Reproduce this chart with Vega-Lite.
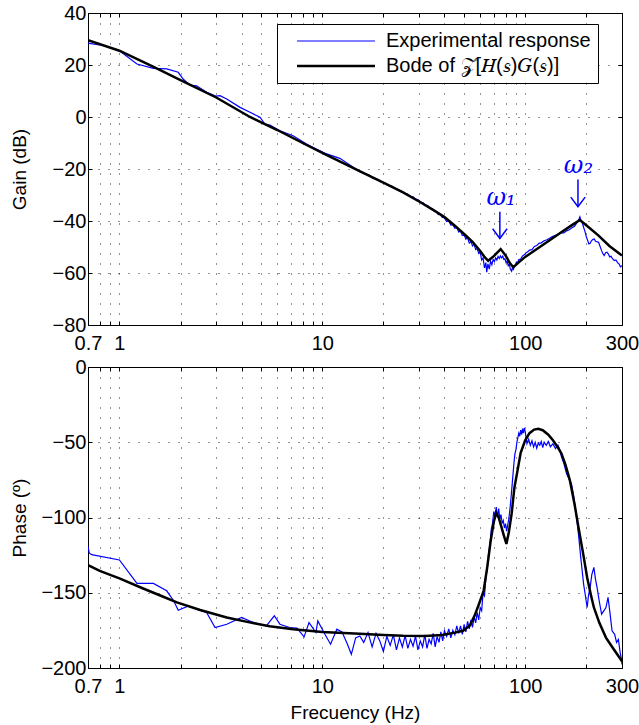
{
  "$schema": "https://vega.github.io/schema/vega-lite/v6.json",
  "background": "white",
  "padding": {"left": 10, "top": 3, "right": 2, "bottom": 2},
  "spacing": 4,
  "config": {
    "font": "Liberation Sans",
    "view": {"stroke": null},
    "axis": {"labelFont": "Liberation Sans", "labelFontSize": 20, "labelColor": "black", "titleFont": "Liberation Sans", "titleFontSize": 19, "titleFontWeight": "normal", "titleColor": "black", "domain": true, "domainColor": "black", "domainWidth": 1, "tickColor": "black", "tickSize": -4, "gridColor": "black", "gridDash": [1, 9], "gridOpacity": 0.85, "labelPadding": 12},
    "legend": {"labelFont": "Liberation Sans", "labelFontSize": 20, "labelColor": "black", "symbolType": "M0.375,0H10.125", "symbolSize": 256, "symbolFillColor": "transparent", "strokeColor": "black", "fillColor": "white", "padding": 7, "rowPadding": 5, "labelOffset": 82, "labelLimit": 500}
  },
  "datasets": {
    "gainExp": [
      {"f":0.7,"v":28.6},{"f":0.71,"v":28.3},{"f":0.83,"v":27.5},{"f":1.0,"v":25.5},{"f":1.22,"v":20.4},{"f":1.47,"v":18.7},{"f":1.71,"v":18.5},{"f":1.95,"v":17.2},{"f":2.06,"v":14.6},{"f":2.22,"v":12.3},{"f":2.4,"v":12.0},{"f":2.69,"v":9.5},{"f":3.0,"v":8.0},{"f":3.13,"v":8.2},{"f":3.38,"v":6.9},{"f":3.93,"v":3.7},{"f":4.4,"v":1.8},{"f":4.93,"v":-0.1},{"f":5.21,"v":-2.7},{"f":5.52,"v":-3.1},{"f":6.18,"v":-5.3},{"f":7.18,"v":-7.2},{"f":8.36,"v":-10.4},{"f":9.02,"v":-11.7},{"f":10.5,"v":-14.2},{"f":12.2,"v":-15.9},{"f":14.2,"v":-19.3},{"f":15.3,"v":-21.0},
      {"f":16.2,"v":-21.8},{"f":17.0,"v":-22.3},{"f":17.8,"v":-23.6},{"f":18.6,"v":-23.9},{"f":19.4,"v":-24.9},{"f":20.3,"v":-25.3},{"f":21.1,"v":-26.3},{"f":22.0,"v":-26.6},{"f":22.9,"v":-27.6},{"f":23.7,"v":-27.9},{"f":24.6,"v":-28.7},{"f":25.4,"v":-29.3},{"f":26.3,"v":-29.6},{"f":27.1,"v":-30.5},{"f":28.0,"v":-30.7},{"f":28.8,"v":-31.6},{"f":29.7,"v":-31.8},{"f":30.5,"v":-32.7},{"f":31.4,"v":-33.0},{"f":32.2,"v":-33.9},{"f":33.1,"v":-34.1},{"f":33.9,"v":-35.2},{"f":34.8,"v":-35.4},{"f":35.6,"v":-36.3},{"f":36.5,"v":-36.5},{"f":37.3,"v":-37.5},{"f":38.2,"v":-37.4},{"f":39.0,"v":-38.6},{"f":39.9,"v":-38.7},
      {"f":41,"v":-40.2},{"f":42,"v":-40.0},{"f":43,"v":-41.6},{"f":44,"v":-41.4},{"f":45,"v":-42.8},{"f":46,"v":-42.5},{"f":47,"v":-44.2},{"f":48,"v":-43.9},{"f":49,"v":-45.6},{"f":50,"v":-45.3},{"f":51,"v":-47.0},{"f":52,"v":-46.4},{"f":53,"v":-48.5},{"f":54,"v":-47.8},{"f":55,"v":-49.6},{"f":56,"v":-49.0},{"f":57,"v":-51.0},{"f":58,"v":-50.6},{"f":59,"v":-52.5},{"f":60,"v":-52.0},{"f":61,"v":-55.0},{"f":62,"v":-54.2},{"f":63,"v":-58.0},{"f":64,"v":-56.0},{"f":64.6,"v":-59.7},{"f":65.5,"v":-56.5},{"f":66.5,"v":-58.5},{"f":67.5,"v":-55.5},{"f":68.5,"v":-56.8},{"f":69.5,"v":-54.8},{"f":70.5,"v":-55.6},{"f":71.5,"v":-54.2},{"f":72.5,"v":-55.0},{"f":73.5,"v":-53.6},{"f":74.5,"v":-54.4},{"f":75.5,"v":-53.4},{"f":76.5,"v":-54.2},{"f":77.5,"v":-53.5},{"f":78.5,"v":-54.8},{"f":79.5,"v":-54.6},{"f":80.5,"v":-56.0},{"f":81.5,"v":-55.4},{"f":82.5,"v":-57.2},{"f":83.5,"v":-56.6},{"f":84.5,"v":-58.6},{"f":85.7,"v":-59.3},{"f":86.5,"v":-58.0},{"f":87.5,"v":-58.6},{"f":88.5,"v":-57.2},{"f":89.5,"v":-57.0},{"f":90.5,"v":-55.8},{"f":91.5,"v":-56.2},{"f":93,"v":-54.8},{"f":95,"v":-54.6},{"f":97,"v":-53.4},{"f":99,"v":-53.0},{"f":101,"v":-52.2},{"f":103,"v":-51.8},{"f":105,"v":-51.2},{"f":108,"v":-51.0},{"f":111,"v":-49.8},{"f":114,"v":-49.4},{"f":117,"v":-48.6},{"f":120,"v":-48.4},{"f":124,"v":-47.6},{"f":128,"v":-47.2},{"f":132,"v":-46.6},{"f":136,"v":-46.0},{"f":140,"v":-45.6},{"f":145,"v":-45.2},{"f":150,"v":-44.6},{"f":155,"v":-44.6},{"f":160,"v":-43.8},{"f":165,"v":-43.4},{"f":170,"v":-42.6},{"f":175,"v":-42.0},{"f":180,"v":-40.6},{"f":184,"v":-39.4},{"f":186,"v":-38.4},{"f":188,"v":-39.6},{"f":191,"v":-40.6},{"f":194,"v":-42.4},{"f":197,"v":-44.0},{"f":200,"v":-46.0},{"f":203,"v":-47.4},{"f":206,"v":-48.8},{"f":209,"v":-48.6},{"f":212,"v":-47.6},{"f":216,"v":-47.0},{"f":219,"v":-46.9},{"f":222,"v":-47.8},{"f":226,"v":-48.0},{"f":230,"v":-48.2},{"f":234,"v":-49.8},{"f":238,"v":-51.4},{"f":241,"v":-52.4},{"f":245,"v":-53.3},{"f":249,"v":-52.2},{"f":253,"v":-52.0},{"f":257,"v":-52.7},{"f":261,"v":-53.8},{"f":265,"v":-53.6},{"f":270,"v":-54.6},{"f":275,"v":-55.2},{"f":280,"v":-55.0},{"f":285,"v":-56.0},{"f":290,"v":-56.5},{"f":295,"v":-57.6},{"f":300,"v":-57.2}
    ],
    "gainBode": [
      {"f":0.7,"v":29.5},{"f":1.0,"v":25.5},{"f":1.5,"v":19.0},{"f":2,"v":14.2},{"f":3,"v":7.5},{"f":4.4,"v":0},{"f":6,"v":-5.0},{"f":8,"v":-10.0},{"f":10,"v":-13.8},{"f":15,"v":-20.5},{"f":20,"v":-25.2},{"f":25,"v":-29.0},{"f":30,"v":-32.5},{"f":35,"v":-35.6},{"f":40,"v":-38.5},{"f":45,"v":-41.8},{"f":50,"v":-45.0},{"f":55,"v":-48.0},{"f":60,"v":-51.5},{"f":63,"v":-53.8},{"f":65.7,"v":-55.3},{"f":70,"v":-53.5},{"f":75.7,"v":-50.8},{"f":80,"v":-53.2},{"f":84,"v":-56.2},{"f":87.4,"v":-57.8},{"f":92,"v":-56.2},{"f":100,"v":-53.8},{"f":120,"v":-49.6},{"f":150,"v":-44.4},{"f":170,"v":-41.6},{"f":186,"v":-39.6},{"f":200,"v":-41.6},{"f":230,"v":-45.6},{"f":260,"v":-49.6},{"f":300,"v":-53.3}
    ],
    "phaseExp": [
      {"f":0.7,"v":-119.3},{"f":0.71,"v":-123.5},{"f":0.73,"v":-124.7},{"f":1.0,"v":-128.2},{"f":1.22,"v":-143.8},{"f":1.47,"v":-143.8},{"f":1.71,"v":-148.7},{"f":1.85,"v":-155.3},{"f":1.95,"v":-161.6},{"f":2.19,"v":-158.7},{"f":2.4,"v":-160.9},{"f":2.69,"v":-163.1},{"f":2.96,"v":-173.1},{"f":3.38,"v":-170.9},{"f":4.0,"v":-166.4},{"f":4.57,"v":-169.8},{"f":5.3,"v":-172},{"f":5.8,"v":-165.3},{"f":6.18,"v":-170.9},{"f":6.9,"v":-173.1},{"f":7.5,"v":-173.5},{"f":8.13,"v":-179.3},{"f":8.6,"v":-169.8},{"f":9.3,"v":-176.4},{"f":9.5,"v":-168.7},{"f":10.3,"v":-177.6},{"f":10.98,"v":-184.2},{"f":11.8,"v":-174.2},{"f":12.5,"v":-176},{"f":13.3,"v":-184.2},{"f":13.9,"v":-190.9},{"f":14.6,"v":-180},{"f":15.3,"v":-178.7},{"f":16.0,"v":-183},{"f":16.8,"v":-176.5},{"f":17.6,"v":-186},{"f":18.4,"v":-177},{"f":19.2,"v":-182},{"f":20.0,"v":-189},{"f":20.8,"v":-179},{"f":21.6,"v":-185},{"f":22.4,"v":-178},{"f":23.2,"v":-188},{"f":24.0,"v":-180},{"f":24.8,"v":-186},{"f":25.6,"v":-178.5},{"f":26.4,"v":-187},{"f":27.2,"v":-181},{"f":28.0,"v":-185.5},{"f":28.8,"v":-179},{"f":29.6,"v":-188},{"f":30.4,"v":-182},{"f":31.2,"v":-186},{"f":32.0,"v":-178},{"f":32.8,"v":-187},{"f":33.6,"v":-181},{"f":34.4,"v":-184},{"f":35.2,"v":-177},{"f":36.0,"v":-186},{"f":36.8,"v":-179},{"f":37.6,"v":-183},{"f":38.4,"v":-176},{"f":39.2,"v":-182},{"f":40,"v":-175.3},{"f":41,"v":-179},{"f":42,"v":-174},{"f":43,"v":-180},{"f":44,"v":-175},{"f":45,"v":-178},{"f":46,"v":-172},{"f":47,"v":-177},{"f":48,"v":-172},{"f":49,"v":-177.6},{"f":50,"v":-171},{"f":51,"v":-176},{"f":52,"v":-169},{"f":53,"v":-174},{"f":54,"v":-168},{"f":55,"v":-173},{"f":56,"v":-166},{"f":57,"v":-170},{"f":58,"v":-163},{"f":59,"v":-168},{"f":60,"v":-160},{"f":61,"v":-162},{"f":62,"v":-150},{"f":63,"v":-152},{"f":64,"v":-140},{"f":65,"v":-134},{"f":66,"v":-124},{"f":67,"v":-118},{"f":68,"v":-108},{"f":69,"v":-104},{"f":70,"v":-96},{"f":71,"v":-99},{"f":72,"v":-93},{"f":73,"v":-100},{"f":74,"v":-94},{"f":75,"v":-101},{"f":76,"v":-98},{"f":77,"v":-104},{"f":78,"v":-102},{"f":79,"v":-107},{"f":80,"v":-104},{"f":81,"v":-109},{"f":82,"v":-105},{"f":83,"v":-101},{"f":84,"v":-95},{"f":85,"v":-88},{"f":86,"v":-80},{"f":87,"v":-72},{"f":88,"v":-64},{"f":89,"v":-57.6},{"f":90,"v":-55},{"f":91,"v":-50},{"f":92,"v":-47},{"f":93,"v":-44},{"f":94,"v":-46},{"f":95,"v":-42},{"f":96,"v":-45},{"f":97,"v":-41},{"f":98,"v":-44},{"f":99,"v":-40.5},{"f":100,"v":-43},{"f":102,"v":-50.9},{"f":104,"v":-48},{"f":106,"v":-52},{"f":108,"v":-49},{"f":110,"v":-53.1},{"f":112,"v":-50},{"f":114,"v":-54},{"f":116,"v":-50.5},{"f":118,"v":-52},{"f":120,"v":-49.5},{"f":122,"v":-53.5},{"f":124,"v":-50},{"f":127,"v":-52},{"f":130,"v":-49.5},{"f":133,"v":-53},{"f":137,"v":-51},{"f":141,"v":-54.2},{"f":145,"v":-52},{"f":148,"v":-55},{"f":151,"v":-59.8},{"f":155,"v":-64},{"f":160,"v":-70.9},{"f":164,"v":-74},{"f":169,"v":-77.6},{"f":173,"v":-85},{"f":178,"v":-97},{"f":183,"v":-110.9},{"f":188,"v":-127},{"f":194,"v":-144.2},{"f":198,"v":-152},{"f":202,"v":-159.8},{"f":205,"v":-152},{"f":209,"v":-146.4},{"f":213,"v":-138},{"f":218,"v":-133.1},{"f":222,"v":-141},{"f":226,"v":-146.4},{"f":232,"v":-156},{"f":238,"v":-164.2},{"f":244,"v":-162},{"f":250,"v":-159.8},{"f":256,"v":-153.1},{"f":261,"v":-162},{"f":268,"v":-175.3},{"f":276,"v":-177.6},{"f":282,"v":-183},{"f":288,"v":-181},{"f":294,"v":-190},{"f":298,"v":-194},{"f":300,"v":-197.6}
    ],
    "phaseBode": [
      {"f":0.7,"v":-131.6},{"f":0.8,"v":-135.5},{"f":1.0,"v":-140.5},{"f":1.3,"v":-147},{"f":1.6,"v":-152},{"f":1.92,"v":-156.4},{"f":2.5,"v":-161.5},{"f":3.38,"v":-166.4},{"f":4.5,"v":-170},{"f":5.5,"v":-172.2},{"f":7.18,"v":-174.2},{"f":10,"v":-176},{"f":15.3,"v":-177.2},{"f":20,"v":-178},{"f":25,"v":-178.5},{"f":32,"v":-178.7},{"f":39,"v":-178},{"f":45,"v":-176.5},{"f":49.4,"v":-175.3},{"f":53.5,"v":-171.5},{"f":56.4,"v":-165},{"f":59,"v":-158},{"f":62.4,"v":-148.7},{"f":65,"v":-133},{"f":67.5,"v":-116},{"f":70,"v":-103},{"f":71.9,"v":-97},{"f":74,"v":-100},{"f":76.4,"v":-106.4},{"f":78.5,"v":-112},{"f":80.8,"v":-117.6},{"f":83,"v":-110},{"f":85.7,"v":-97.6},{"f":88.5,"v":-80},{"f":91.7,"v":-68.7},{"f":95,"v":-57},{"f":100,"v":-48.7},{"f":105,"v":-44},{"f":110.7,"v":-41.6},{"f":116,"v":-41},{"f":122,"v":-42},{"f":130,"v":-45},{"f":137,"v":-48.7},{"f":145,"v":-53.5},{"f":151,"v":-57.6},{"f":158,"v":-65},{"f":166,"v":-75.3},{"f":175,"v":-91},{"f":183,"v":-106.4},{"f":193,"v":-124},{"f":202,"v":-139.8},{"f":210,"v":-150.5},{"f":218,"v":-159.8},{"f":232,"v":-170},{"f":250,"v":-179.8},{"f":270,"v":-186.5},{"f":300,"v":-195.5}
    ],
    "arrows": [
      {"f": 75, "top": -36.4, "tip": -46.7},
      {"f": 182, "top": -24.0, "tip": -34.5}
    ],
    "omegas": [
      {"f": 76, "v": -31.2, "t": "ω₁"},
      {"f": 183, "v": -18.8, "t": "ω₂"}
    ]
  },
  "resolve": {"legend": {"color": "independent"}},
  "vconcat": [
    {
      "width": 534,
      "height": 312,
      "resolve": {"axis": {"x": "independent", "y": "independent"}},
      "layer": [
        {
          "data": {"name": "gainExp"},
          "mark": {"type": "line", "clip": true, "strokeWidth": 1.2},
          "encoding": {
            "x": {"field": "f", "type": "quantitative", "scale": {"type": "log", "domain": [0.7, 300], "nice": false},
              "axis": {"orient": "bottom", "title": null, "values": [0.7,0.8,0.9,1,2,3,4,5,6,7,8,9,10,20,30,40,50,60,70,80,90,100,200,300], "labelExpr": "indexof([0.7,1,10,100,300], datum.value) >= 0 ? datum.value + '' : ''", "grid": true, "labelFlush": false, "labelOverlap": false}},
            "y": {"field": "v", "type": "quantitative", "scale": {"domain": [-80, 40], "nice": false},
              "axis": {"orient": "left", "title": "Gain (dB)", "values": [-80,-60,-40,-20,0,20,40], "grid": true, "labelPadding": 6, "titleX": -69, "titleBaseline": "middle"}},
            "color": {"datum": "Experimental response", "type": "nominal", "scale": {"domain": ["Experimental response", "Bode of 𝒵[𝐻(𝑠)𝐺(𝑠)]"], "range": ["#0000ff", "#000000"]},
              "legend": {"title": null, "orient": "none", "legendX": 189, "legendY": 11, "encode": {"symbols": {"update": {"strokeWidth": {"signal": "datum.value === 'Experimental response' ? 1.2 : 2.5"}, "fill": {"value": "transparent"}}}}}}
          }
        },
        {
          "data": {"name": "gainBode"},
          "mark": {"type": "line", "clip": true, "strokeWidth": 2.5},
          "encoding": {
            "x": {"field": "f", "type": "quantitative", "axis": {"orient": "top", "title": null, "labels": false, "grid": false, "values": [0.7,0.8,0.9,1,2,3,4,5,6,7,8,9,10,20,30,40,50,60,70,80,90,100,200,300]}},
            "y": {"field": "v", "type": "quantitative", "axis": {"orient": "right", "title": null, "labels": false, "grid": false, "values": [-80,-60,-40,-20,0,20,40]}},
            "color": {"datum": "Bode of 𝒵[𝐻(𝑠)𝐺(𝑠)]", "type": "nominal"}
          }
        },
        {
          "data": {"name": "arrows"},
          "mark": {"type": "rule", "color": "#0000ff", "strokeWidth": 1.5},
          "encoding": {
            "x": {"field": "f", "type": "quantitative", "axis": null},
            "y": {"field": "top", "type": "quantitative", "axis": null},
            "y2": {"field": "tip"}
          }
        },
        {
          "data": {"name": "arrows"},
          "mark": {"type": "point", "shape": "M-0.9,-1.2L0,0L0.9,-1.2", "filled": false, "color": "#0000ff", "strokeWidth": 1.5, "size": 256, "opacity": 1},
          "encoding": {
            "x": {"field": "f", "type": "quantitative", "axis": null},
            "y": {"field": "tip", "type": "quantitative", "axis": null}
          }
        },
        {
          "data": {"name": "omegas"},
          "mark": {"type": "text", "font": "DejaVu Serif", "fontStyle": "italic", "fontSize": 24, "color": "#0000ff", "align": "center", "baseline": "middle"},
          "encoding": {
            "x": {"field": "f", "type": "quantitative", "axis": null},
            "y": {"field": "v", "type": "quantitative", "axis": null},
            "text": {"field": "t"}
          }
        }
      ]
    },
    {
      "width": 534,
      "height": 301,
      "resolve": {"axis": {"x": "independent", "y": "independent"}},
      "layer": [
        {
          "data": {"name": "phaseExp"},
          "mark": {"type": "line", "clip": true, "strokeWidth": 1.2},
          "encoding": {
            "x": {"field": "f", "type": "quantitative", "scale": {"type": "log", "domain": [0.7, 300], "nice": false},
              "axis": {"orient": "bottom", "title": "Frecuency (Hz)", "titlePadding": 7, "values": [0.7,0.8,0.9,1,2,3,4,5,6,7,8,9,10,20,30,40,50,60,70,80,90,100,200,300], "labelExpr": "indexof([0.7,1,10,100,300], datum.value) >= 0 ? datum.value + '' : ''", "grid": true, "labelFlush": false, "labelOverlap": false}},
            "y": {"field": "v", "type": "quantitative", "scale": {"domain": [-200, 0], "nice": false},
              "axis": {"orient": "left", "title": "Phase (º)", "values": [-200,-150,-100,-50,0], "grid": true, "labelPadding": 6, "titleX": -69, "titleBaseline": "middle"}},
            "color": {"datum": "Experimental response", "type": "nominal", "scale": {"domain": ["Experimental response", "Bode of 𝒵[𝐻(𝑠)𝐺(𝑠)]"], "range": ["#0000ff", "#000000"]}, "legend": null}
          }
        },
        {
          "data": {"name": "phaseBode"},
          "mark": {"type": "line", "clip": true, "strokeWidth": 2.5},
          "encoding": {
            "x": {"field": "f", "type": "quantitative", "axis": {"orient": "top", "title": null, "labels": false, "grid": false, "values": [0.7,0.8,0.9,1,2,3,4,5,6,7,8,9,10,20,30,40,50,60,70,80,90,100,200,300]}},
            "y": {"field": "v", "type": "quantitative", "axis": {"orient": "right", "title": null, "labels": false, "grid": false, "values": [-200,-150,-100,-50,0]}},
            "color": {"datum": "Bode of 𝒵[𝐻(𝑠)𝐺(𝑠)]", "type": "nominal", "legend": null}
          }
        }
      ]
    }
  ]
}
